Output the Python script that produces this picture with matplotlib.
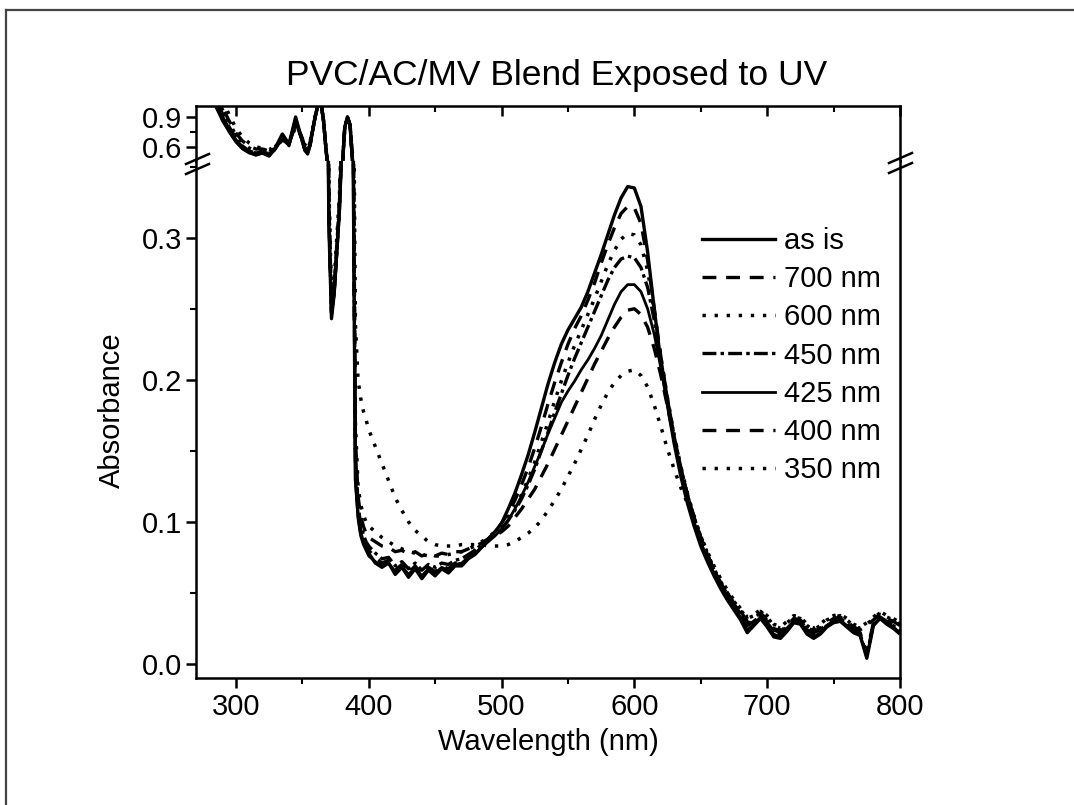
import matplotlib
matplotlib.use("Agg")
import matplotlib.pyplot as plt
from matplotlib.lines import Line2D
from matplotlib.ticker import MultipleLocator, FixedLocator

plt.rcParams['font.family'] = ['Liberation Sans', 'DejaVu Sans']
plt.rcParams['lines.scale_dashes'] = False

# Wavelength grid (nm)
wavelength = (
    [270, 275, 280, 285, 290, 295, 300, 305, 310, 315, 320, 325, 330, 335, 340, 345, 350]
    + list(range(352, 400, 2))
    + list(range(400, 805, 5))
)

abs_as_is = [
    1.60, 1.40, 1.20, 1.02, 0.88, 0.76, 0.66, 0.59, 0.55, 0.52, 0.54, 0.51, 0.60, 0.73, 0.63, 0.90, 0.66,
    0.57, 0.53, 0.62, 0.78, 0.92, 1.03, 1.06, 0.86, 0.55, 0.31, 0.243, 0.26, 0.29, 0.32, 0.37, 0.80, 0.90, 0.82, 0.40, 0.13, 0.105, 0.092, 0.086, 0.082,
    0.078, 0.071, 0.068, 0.071, 0.063, 0.068, 0.061, 0.067, 0.060, 0.066, 0.062, 0.067, 0.064, 0.069, 0.069, 0.074, 0.077, 0.082, 0.088, 0.093,
    0.099, 0.109, 0.120, 0.133, 0.147, 0.163, 0.180, 0.197, 0.212, 0.225, 0.235, 0.243, 0.251, 0.262, 0.275, 0.288, 0.302, 0.316, 0.328, 0.336,
    0.335, 0.322, 0.290, 0.250, 0.212, 0.182, 0.155, 0.132, 0.113, 0.097, 0.083, 0.072, 0.062, 0.053, 0.045, 0.038, 0.031, 0.022, 0.027, 0.032,
    0.026, 0.019, 0.018, 0.023, 0.029, 0.028, 0.021, 0.018, 0.021, 0.026, 0.029, 0.030, 0.026, 0.022, 0.020, 0.004, 0.027, 0.032, 0.028, 0.025,
    0.021,
]

abs_700 = [
    1.70, 1.50, 1.28, 1.08, 0.93, 0.80, 0.69, 0.61, 0.56, 0.54, 0.55, 0.53, 0.58, 0.70, 0.61, 0.87, 0.66,
    0.57, 0.55, 0.63, 0.78, 0.92, 1.03, 1.06, 0.86, 0.56, 0.32, 0.247, 0.262, 0.29, 0.32, 0.37, 0.80, 0.90, 0.82, 0.42, 0.14, 0.108, 0.094, 0.088, 0.084,
    0.080, 0.075, 0.071, 0.073, 0.066, 0.070, 0.064, 0.069, 0.063, 0.068, 0.065, 0.069, 0.067, 0.071, 0.072, 0.076, 0.080, 0.084, 0.088, 0.093,
    0.099, 0.106, 0.115, 0.126, 0.138, 0.152, 0.167, 0.183, 0.198, 0.212, 0.225, 0.236, 0.245, 0.256, 0.268, 0.282, 0.295, 0.307, 0.317, 0.322,
    0.321, 0.310, 0.284, 0.250, 0.216, 0.186, 0.160, 0.138, 0.119, 0.103, 0.089, 0.077, 0.066, 0.057, 0.049, 0.042, 0.036, 0.028, 0.031, 0.035,
    0.030, 0.024, 0.022, 0.026, 0.031, 0.030, 0.025, 0.022, 0.024, 0.028, 0.031, 0.032, 0.029, 0.025, 0.022, 0.008, 0.029, 0.033, 0.030, 0.028,
    0.025,
]

abs_600 = [
    1.80, 1.58, 1.34, 1.13, 0.97, 0.84, 0.72, 0.64, 0.59, 0.56, 0.57, 0.55, 0.60, 0.68, 0.63, 0.84, 0.68,
    0.59, 0.57, 0.64, 0.78, 0.92, 1.02, 1.05, 0.87, 0.57, 0.33, 0.25, 0.265, 0.29, 0.325, 0.38, 0.79, 0.89, 0.82, 0.44, 0.17, 0.125, 0.112, 0.105, 0.100,
    0.097, 0.093, 0.089, 0.086, 0.083, 0.081, 0.079, 0.078, 0.077, 0.076, 0.076, 0.076, 0.077, 0.078, 0.079, 0.081, 0.083, 0.086, 0.089, 0.093,
    0.097, 0.103, 0.110, 0.119, 0.130, 0.142, 0.156, 0.170, 0.185, 0.199, 0.212, 0.224, 0.235, 0.246, 0.257, 0.269, 0.281, 0.291, 0.299, 0.303,
    0.302, 0.295, 0.277, 0.248, 0.216, 0.187, 0.161, 0.139, 0.120, 0.104, 0.090, 0.078, 0.067, 0.058, 0.050, 0.044, 0.038, 0.032, 0.034, 0.037,
    0.033, 0.027, 0.025, 0.029, 0.033, 0.032, 0.027, 0.024, 0.027, 0.031, 0.033, 0.034, 0.031, 0.027, 0.025, 0.028, 0.032, 0.036, 0.033, 0.031,
    0.028,
]

abs_450 = [
    1.65, 1.45, 1.24, 1.05, 0.90, 0.78, 0.67, 0.60, 0.56, 0.54, 0.55, 0.53, 0.59, 0.69, 0.62, 0.86, 0.67,
    0.58, 0.56, 0.63, 0.78, 0.92, 1.03, 1.06, 0.86, 0.56, 0.32, 0.248, 0.262, 0.29, 0.32, 0.37, 0.80, 0.90, 0.82, 0.43, 0.15, 0.112, 0.098, 0.091, 0.086,
    0.083, 0.078, 0.074, 0.075, 0.069, 0.072, 0.067, 0.071, 0.066, 0.070, 0.068, 0.071, 0.070, 0.073, 0.074, 0.077, 0.080, 0.084, 0.088, 0.091,
    0.095, 0.101, 0.108, 0.116, 0.126, 0.137, 0.150, 0.163, 0.177, 0.190, 0.203, 0.215, 0.226, 0.237, 0.248, 0.259, 0.270, 0.279, 0.285, 0.287,
    0.286, 0.279, 0.265, 0.242, 0.214, 0.186, 0.160, 0.138, 0.119, 0.103, 0.089, 0.077, 0.066, 0.057, 0.049, 0.042, 0.035, 0.027, 0.030, 0.034,
    0.029, 0.023, 0.021, 0.025, 0.030, 0.029, 0.024, 0.021, 0.023, 0.027, 0.030, 0.031, 0.028, 0.024, 0.021, 0.006, 0.028, 0.033, 0.029, 0.027,
    0.023,
]

abs_425 = [
    1.55, 1.36, 1.17, 1.00, 0.86, 0.75, 0.65, 0.58, 0.54, 0.52, 0.54, 0.51, 0.58, 0.71, 0.61, 0.89, 0.65,
    0.56, 0.54, 0.62, 0.78, 0.92, 1.03, 1.06, 0.86, 0.55, 0.31, 0.245, 0.26, 0.29, 0.32, 0.37, 0.80, 0.90, 0.82, 0.40, 0.13, 0.102, 0.090, 0.084, 0.080,
    0.076, 0.072, 0.069, 0.071, 0.065, 0.069, 0.063, 0.068, 0.062, 0.067, 0.064, 0.068, 0.066, 0.070, 0.071, 0.075, 0.078, 0.082, 0.086, 0.090,
    0.095, 0.101, 0.109, 0.118, 0.128, 0.139, 0.150, 0.162, 0.173, 0.184, 0.192, 0.199, 0.207, 0.214, 0.222, 0.231, 0.242, 0.253, 0.262, 0.267,
    0.267, 0.262, 0.250, 0.232, 0.208, 0.182, 0.157, 0.135, 0.116, 0.100, 0.086, 0.074, 0.064, 0.055, 0.047, 0.040, 0.033, 0.024, 0.028, 0.033,
    0.027, 0.021, 0.019, 0.024, 0.030, 0.029, 0.023, 0.019, 0.022, 0.027, 0.030, 0.031, 0.027, 0.023, 0.020, 0.005, 0.028, 0.032, 0.029, 0.026,
    0.022,
]

abs_400 = [
    1.85, 1.62, 1.38, 1.16, 0.99, 0.86, 0.74, 0.66, 0.61, 0.58, 0.58, 0.56, 0.61, 0.67, 0.63, 0.83, 0.69,
    0.60, 0.58, 0.65, 0.79, 0.92, 1.02, 1.05, 0.87, 0.57, 0.33, 0.252, 0.266, 0.295, 0.325, 0.38, 0.79, 0.89, 0.82, 0.45, 0.16, 0.118, 0.104, 0.097, 0.092,
    0.089, 0.086, 0.083, 0.082, 0.079, 0.080, 0.077, 0.079, 0.076, 0.078, 0.076, 0.078, 0.077, 0.079, 0.079, 0.081, 0.083, 0.085, 0.088, 0.090,
    0.093, 0.097, 0.103, 0.109, 0.116, 0.123, 0.132, 0.141, 0.151, 0.161, 0.171, 0.181, 0.191, 0.201, 0.211, 0.220, 0.229, 0.237, 0.244, 0.249,
    0.250, 0.246, 0.237, 0.222, 0.203, 0.181, 0.158, 0.137, 0.119, 0.103, 0.089, 0.077, 0.066, 0.057, 0.050, 0.043, 0.037, 0.030, 0.032, 0.036,
    0.031, 0.025, 0.023, 0.027, 0.032, 0.031, 0.026, 0.023, 0.025, 0.029, 0.032, 0.033, 0.030, 0.026, 0.024, 0.027, 0.031, 0.035, 0.032, 0.030,
    0.027,
]

abs_350 = [
    2.00, 1.75, 1.50, 1.26, 1.07, 0.92, 0.79, 0.70, 0.64, 0.60, 0.59, 0.57, 0.62, 0.66, 0.63, 0.80, 0.70,
    0.62, 0.60, 0.66, 0.79, 0.92, 1.01, 1.04, 0.87, 0.58, 0.34, 0.255, 0.27, 0.30, 0.33, 0.39, 0.78, 0.88, 0.82, 0.50, 0.24, 0.200, 0.187, 0.178, 0.172,
    0.165, 0.153, 0.141, 0.129, 0.117, 0.108, 0.100, 0.094, 0.090, 0.086, 0.084, 0.083, 0.083, 0.083, 0.084, 0.084, 0.084, 0.084, 0.083, 0.083,
    0.083, 0.084, 0.086, 0.089, 0.092, 0.096, 0.101, 0.108, 0.115, 0.123, 0.132, 0.141, 0.151, 0.161, 0.172, 0.182, 0.191, 0.198, 0.203, 0.206,
    0.207, 0.203, 0.195, 0.182, 0.167, 0.151, 0.137, 0.124, 0.113, 0.101, 0.090, 0.079, 0.069, 0.060, 0.052, 0.045, 0.039, 0.033, 0.035, 0.038,
    0.034, 0.028, 0.026, 0.030, 0.034, 0.033, 0.028, 0.025, 0.028, 0.032, 0.034, 0.035, 0.032, 0.028, 0.026, 0.029, 0.033, 0.037, 0.034, 0.032,
    0.029,
]

series_labels = ["as is", "700 nm", "600 nm", "450 nm", "425 nm", "400 nm", "350 nm"]
series_values = [abs_as_is, abs_700, abs_600, abs_450, abs_425, abs_400, abs_350]

# Origin-like line styles
styles = [
    dict(linestyle='-', linewidth=2.4),
    dict(linestyle=(0, (10, 7)), linewidth=2.4),
    dict(linestyle=(0, (2.4, 6.3)), linewidth=2.5),
    dict(linestyle=(0, (10, 3, 2.5, 3)), linewidth=2.4),
    dict(linestyle='-', linewidth=2.0),
    dict(linestyle=(0, (10, 7)), linewidth=2.4),
    dict(linestyle=(0, (2.4, 6.3)), linewidth=2.5),
]

W, H = 1074, 805
fig = plt.figure(figsize=(W / 100, H / 100), dpi=100)

x_left, x_right = 196, 900
y_top, y_break, y_bottom = 106, 161, 678

def fig_rect(x0, x1, y0, y1):
    return [x0 / W, 1 - y1 / H, (x1 - x0) / W, (y1 - y0) / H]

ax_top = fig.add_axes(fig_rect(x_left, x_right, y_top, y_break))
ax_bot = fig.add_axes(fig_rect(x_left, x_right, y_break, y_bottom), sharex=ax_top)

for ax in (ax_top, ax_bot):
    for lab, vals, st in zip(series_labels, series_values, styles):
        ax.plot(wavelength, vals, color='black', label=lab,
                solid_capstyle='butt', dash_capstyle='butt', **st)
    for sp in ax.spines.values():
        sp.set_linewidth(1.8)

ax_top.set_xlim(270, 800)
ax_top.set_ylim(0.46, 1.01)
ax_bot.set_ylim(-0.0099, 0.354)

ax_top.spines['bottom'].set_visible(False)
ax_bot.spines['top'].set_visible(False)

# x ticks
ax_bot.xaxis.set_major_locator(MultipleLocator(100))
ax_bot.xaxis.set_minor_locator(MultipleLocator(50))
ax_bot.tick_params(axis='x', which='major', direction='out', length=7, width=1.8,
                   labelsize=21, pad=4, top=False)
ax_bot.tick_params(axis='x', which='minor', direction='out', length=4, width=1.5, top=False)
ax_top.tick_params(axis='x', which='both', bottom=False, top=True, direction='in',
                   labelbottom=False, labeltop=False)
ax_top.tick_params(axis='x', which='major', length=7, width=1.8)
ax_top.tick_params(axis='x', which='minor', length=4, width=1.5)

# y ticks
ax_top.yaxis.set_major_locator(FixedLocator([0.6, 0.9]))
ax_top.yaxis.set_minor_locator(FixedLocator([0.75]))
ax_bot.yaxis.set_major_locator(MultipleLocator(0.1))
ax_bot.yaxis.set_minor_locator(MultipleLocator(0.05))
for ax in (ax_top, ax_bot):
    ax.tick_params(axis='y', which='major', direction='out', length=7, width=1.8,
                   labelsize=21, pad=3, right=False)
    ax.tick_params(axis='y', which='minor', direction='out', length=4, width=1.5, right=False)
ax_top.yaxis.set_major_formatter(plt.FuncFormatter(lambda v, p: f"{v:.1f}"))
ax_bot.yaxis.set_major_formatter(plt.FuncFormatter(lambda v, p: f"{v:.1f}"))

ax_bot.set_xlabel("Wavelength (nm)", fontsize=21, labelpad=5)
fig.text(112 / W, 1 - 410 / H, "Absorbance", rotation=90, fontsize=21,
         ha='center', va='center')
fig.text(557 / W, 1 - 76 / H, "PVC/AC/MV Blend Exposed to UV", fontsize=25.5,
         ha='center', va='center')

# break marks on both side spines
def px_line(x0, y0, x1, y1, lw=1.8):
    fig.add_artist(Line2D([x0 / W, x1 / W], [1 - y0 / H, 1 - y1 / H],
                          transform=fig.transFigure, color='black', lw=lw))

px_line(186, 164, 209, 154)
px_line(186, 174, 209, 164)
px_line(889, 163, 912, 153)
px_line(889, 173, 912, 163)

# legend
handles = [Line2D([0], [0], color='black', **st) for st in styles]
leg = ax_bot.legend(handles, series_labels, loc='upper left', frameon=False,
                    bbox_to_anchor=(702 / W, 1 - 227 / H), bbox_transform=fig.transFigure,
                    fontsize=21, handlelength=2.5, handletextpad=0.3,
                    labelspacing=0.35, borderaxespad=0, borderpad=0)

# page border
fig.add_artist(Line2D([6 / W, 1.0], [1 - 10 / H, 1 - 10 / H], transform=fig.transFigure,
                      color='#444444', lw=1.6))
fig.add_artist(Line2D([6 / W, 6 / W], [1 - 10 / H, 0.0], transform=fig.transFigure,
                      color='#444444', lw=1.6))

fig.savefig("out.png", dpi=100)
